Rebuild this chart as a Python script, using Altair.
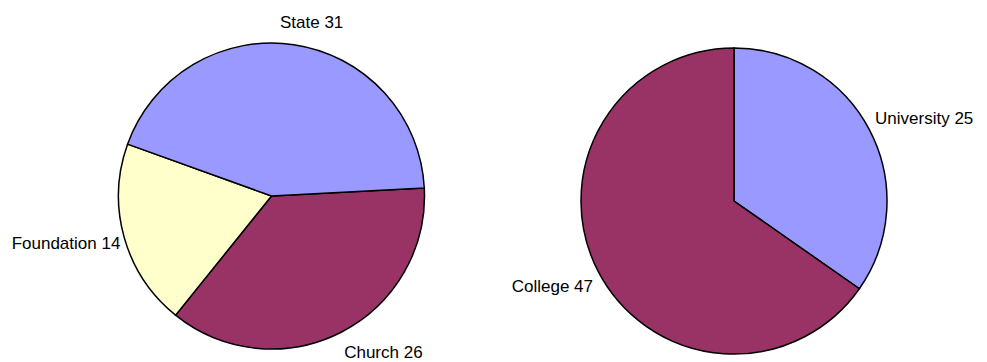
import math
import altair as alt
import pandas as pd

# ---- data ----
left_labels = ["Church", "Foundation", "State"]
left_values = [26, 14, 31]
right_labels = ["University", "College"]
right_values = [25, 47]

all_labels = ["State", "Church", "Foundation", "University", "College"]
all_colors = ["#9999FF", "#993366", "#FFFFCC", "#9999FF", "#993366"]

left_df = pd.DataFrame({"label": left_labels, "value": left_values, "idx": range(len(left_labels))})
right_df = pd.DataFrame({"label": right_labels, "value": right_values, "idx": range(len(right_labels))})

FONT = "Liberation Sans, Arial, sans-serif"
color_scale = alt.Scale(domain=all_labels, range=all_colors)


def pie(df, cx, cy, r, start_deg, label_specs):
    total = float(sum(df["value"]))
    s = math.radians(start_deg)
    tscale = alt.Scale(domain=[0, total], range=[s, s + 2 * math.pi])
    base = (
        alt.Chart(df)
        .transform_window(end="sum(value)", sort=[alt.SortField("idx")], frame=[None, 0])
        .transform_calculate(start="datum.end - datum.value",
                             mid="datum.end - datum.value / 2",
                             txt="datum.label + ' ' + datum.value")
    )
    arcs = base.mark_arc(radius=r, stroke="black", strokeWidth=1.5).encode(
        theta=alt.Theta("start:Q", scale=tscale),
        theta2="end:Q",
        color=alt.Color("label:N", scale=color_scale, legend=None),
        x=alt.value(cx),
        y=alt.value(cy),
    )
    layers = [arcs]
    for name, rad, align, dx, dy in label_specs:
        t = base.transform_filter(alt.datum.label == name).mark_text(
            radius=rad, align=align, baseline="middle", dx=dx, dy=dy,
            font=FONT, fontSize=17, color="black",
        ).encode(
            theta=alt.Theta("mid:Q", scale=tscale),
            text="txt:N",
            x=alt.value(cx),
            y=alt.value(cy),
        )
        layers.append(t)
    return layers


left_layers = pie(left_df, 271.5, 196, 153, 87, [
    ("State", 172, "center", 15, -3),
    ("Church", 175, "left", -7, 1),
    ("Foundation", 157, "right", 0, 6),
])
right_layers = pie(right_df, 734, 201, 153, 0, [
    ("University", 159, "left", 0, -9),
    ("College", 159, "right", 0, 13),
])

chart = (
    alt.layer(*left_layers, *right_layers)
    .resolve_scale(theta="independent")
    .properties(width=987, height=362, autosize=alt.AutoSizeParams(type="none"), padding=0)
    .configure_view(stroke=None)
)

chart.save("out.html", embed_options={"renderer": "svg", "actions": False})
